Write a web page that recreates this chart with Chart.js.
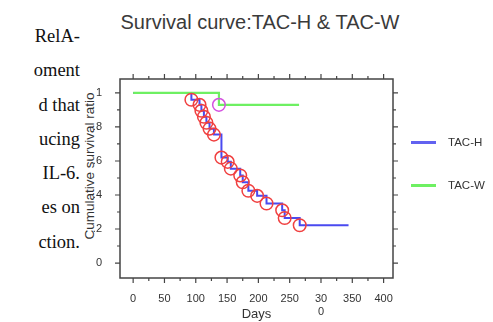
<!DOCTYPE html>
<html>
<head>
<meta charset="utf-8">
<script src="https://cdn.jsdelivr.net/npm/chart.js@4.4.0/dist/chart.umd.min.js"></script>
<style>
    body { margin: 0; background: #fff; }
    #wrap { position: relative; width: 493px; height: 322px; overflow: hidden; }
    #survivalChart { position: absolute; left: 0; top: 0; }
    .side-text {
        position: absolute; right: 413px; top: 19px; width: 200px;
        font-family: "Liberation Serif", serif; font-size: 18.5px; line-height: 34.3px;
        text-align: right; color: #111; white-space: nowrap;
    }
    .chart-title {
        position: absolute; left: 0; width: 520px; top: 12px; text-align: center;
        font-family: "Liberation Sans", Arial, sans-serif; font-size: 20px; line-height: 20px; color: #3a3a3a;
    }
    .y-title {
        position: absolute; left: 90px; top: 166px; transform: translate(-50%, -50%) rotate(-90deg);
        font-family: "Liberation Sans", Arial, sans-serif; font-size: 13.5px; line-height: 14px; color: #333; white-space: nowrap;
    }
    .legend { position: absolute; left: 411px; font-family: "Liberation Sans", Arial, sans-serif; font-size: 11.5px; color: #333; }
    .legend span.swatch { position: absolute; left: 0; top: 7px; width: 25px; height: 3px; }
    .legend span.label { position: absolute; left: 37px; top: 0; white-space: nowrap; line-height: 16px; }
</style>
</head>
<body>
<div id="wrap">
    <div class="side-text">RelA-<br>oment<br>d that<br>ucing<br>IL-6.<br>es on<br>ction.</div>
    <div class="chart-title">Survival curve:TAC-H &amp; TAC-W</div>
    <div class="y-title">Cumulative survival ratio</div>
    <canvas id="survivalChart" width="493" height="322"></canvas>
    <div class="legend" style="top:134px"><span class="swatch" style="background:#6262f0"></span><span class="label">TAC-H</span></div>
    <div class="legend" style="top:177px"><span class="swatch" style="background:#6ef062"></span><span class="label">TAC-W</span></div>
</div>
<script>
// TAC-H: days of each death and survival ratio after it
const hEventDays = [93, 106, 109, 113, 117, 122, 129, 141, 151, 156, 171, 175, 184, 198, 213, 238, 242, 266];
const hEventSurv = [0.96, 0.93, 0.895, 0.86, 0.825, 0.79, 0.755, 0.62, 0.595, 0.555, 0.515, 0.475, 0.425, 0.395, 0.35, 0.31, 0.265, 0.222];
const hLastDay = 344;

// TAC-W
const wEventDays = [137];
const wEventSurv = [0.93];
const wLastDay = 265;

// axis ticks
const xTickValues = [0, 50, 100, 150, 200, 250, 300, 350, 400];
const yTickValues = [0, 0.2, 0.4, 0.6, 0.8, 1];
const yTickLabels = ["0", ".2", ".4", ".6", ".8", "1"];
const xMinorTicks = [0, 25, 50, 75, 100, 125, 150, 175, 200, 225, 250, 275, 300, 325, 350, 375, 400];
const yMinorTicks = [0, 0.1, 0.2, 0.3, 0.4, 0.5, 0.6, 0.7, 0.8, 0.9, 1];

// build step curve points: start at 1, each event, then hold to last day
function kmPoints(days, surv, lastDay) {
    const pts = [{ x: 0, y: 1 }];
    days.forEach((d, i) => pts.push({ x: d, y: surv[i] }));
    pts.push({ x: lastDay, y: surv[surv.length - 1] });
    return pts;
}
function eventPoints(days, surv) {
    return days.map((d, i) => ({ x: d, y: surv[i] }));
}

// frame with ticks on all four sides
const frameTicks = {
    id: "frameTicks",
    afterDraw(chart) {
        const { ctx, chartArea: a, scales: { x, y } } = chart;
        ctx.save();
        ctx.strokeStyle = "#444";
        ctx.lineWidth = 1.5;
        ctx.strokeRect(a.left, a.top, a.right - a.left, a.bottom - a.top);
        ctx.lineWidth = 1.2;
        ctx.beginPath();
        xMinorTicks.forEach(v => {
            const px = x.getPixelForValue(v);
            const len = v % 50 === 0 ? 5 : 3;
            ctx.moveTo(px, a.bottom); ctx.lineTo(px, a.bottom + len);
            ctx.moveTo(px, a.top); ctx.lineTo(px, a.top - len);
        });
        yMinorTicks.forEach((v, i) => {
            const py = y.getPixelForValue(v);
            const len = i % 2 === 0 ? 5 : 3;
            ctx.moveTo(a.left, py); ctx.lineTo(a.left - len, py);
            ctx.moveTo(a.right, py); ctx.lineTo(a.right + len, py);
        });
        ctx.stroke();
        ctx.restore();
    }
};

document.addEventListener("DOMContentLoaded", () => {
    const ctx = document.getElementById("survivalChart").getContext("2d");
    new Chart(ctx, {
        type: "scatter",
        data: {
            datasets: [
                {
                    label: "TAC-H deaths",
                    data: eventPoints(hEventDays, hEventSurv),
                    pointRadius: 6.3,
                    pointBorderWidth: 1.5,
                    pointBorderColor: "#f04040",
                    pointBackgroundColor: "rgba(0,0,0,0)",
                    order: 0
                },
                {
                    label: "TAC-W deaths",
                    data: eventPoints(wEventDays, wEventSurv),
                    pointRadius: 6.3,
                    pointBorderWidth: 1.5,
                    pointBorderColor: "#d450e0",
                    pointBackgroundColor: "rgba(0,0,0,0)",
                    order: 1
                },
                {
                    label: "TAC-W",
                    data: kmPoints(wEventDays, wEventSurv, wLastDay),
                    showLine: true,
                    stepped: true,
                    borderColor: "#6ef062",
                    borderWidth: 2.2,
                    pointRadius: 0,
                    order: 2
                },
                {
                    label: "TAC-H",
                    data: kmPoints(hEventDays, hEventSurv, hLastDay),
                    showLine: true,
                    stepped: true,
                    borderColor: "#4a4af0",
                    borderWidth: 2,
                    pointRadius: 0,
                    order: 3
                }
            ]
        },
        options: {
            responsive: false,
            animation: false,
            layout: { padding: { left: 0, right: 100, top: 79, bottom: 0 } },
            plugins: {
                legend: { display: false },
                tooltip: { enabled: false }
            },
            scales: {
                x: {
                    type: "linear",
                    min: -21,
                    max: 415,
                    grid: { display: false },
                    border: { display: false },
                    afterBuildTicks: (scale) => { scale.ticks = xTickValues.map(v => ({ value: v })); },
                    afterFit: (scale) => { scale.height = 44; },
                    ticks: {
                        padding: 6,
                        color: "#333",
                        font: { family: "Liberation Sans", size: 11 },
                        maxRotation: 0,
                        autoSkip: false,
                        callback: (v) => v === 300 ? ["30", "0"] : String(v)
                    },
                    title: {
                        display: true,
                        text: "Days",
                        color: "#333",
                        font: { family: "Liberation Sans", size: 13 },
                        padding: { top: 0, bottom: 0 }
                    }
                },
                y: {
                    type: "linear",
                    min: -0.088,
                    max: 1.082,
                    grid: { display: false },
                    border: { display: false },
                    afterBuildTicks: (scale) => { scale.ticks = yTickValues.map(v => ({ value: v })); },
                    afterFit: (scale) => { scale.width = 120; },
                    ticks: {
                        padding: 10,
                        color: "#333",
                        font: { family: "Liberation Sans", size: 11 },
                        autoSkip: false,
                        callback: (v) => yTickLabels[yTickValues.indexOf(v)] ?? String(v)
                    }
                }
            }
        },
        plugins: [frameTicks]
    });
});
</script>
</body>
</html>
